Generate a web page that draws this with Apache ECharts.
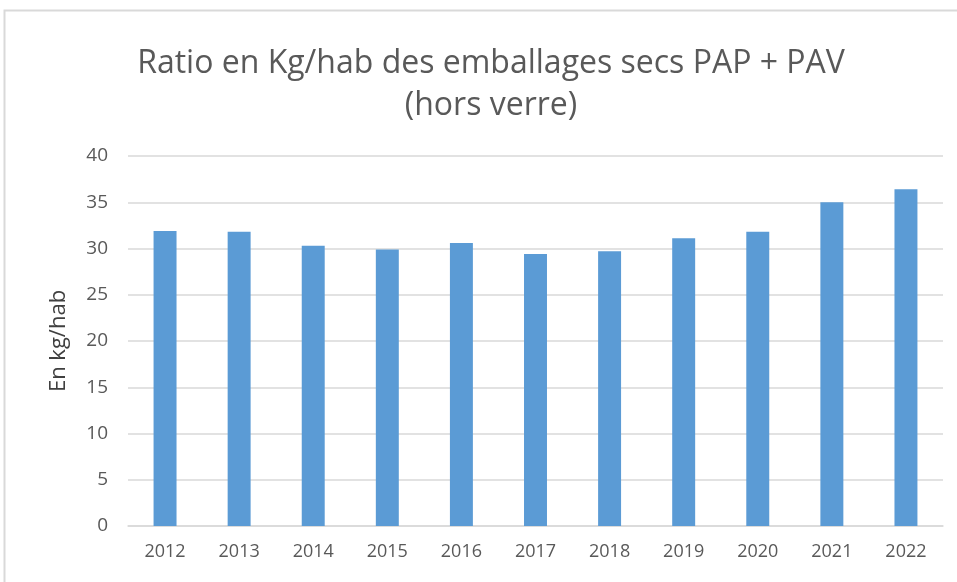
<!DOCTYPE html>
<html><head><meta charset="utf-8">
<script src="https://cdn.jsdelivr.net/npm/echarts@6/dist/echarts.min.js"></script>
<style>html,body{margin:0;padding:0;background:#fff}#c{width:957px;height:582px}</style>
</head><body><div id="c"></div>
<script>
const categories = ['2012','2013','2014','2015','2016','2017','2018','2019','2020','2021','2022'];
const values = [31.9, 31.8, 30.3, 29.9, 30.6, 29.4, 29.7, 31.1, 31.8, 35.0, 36.4];
const titleText = 'Ratio en Kg/hab des emballages secs PAP + PAV\n(hors verre)';
const yAxisName = 'En kg/hab';
const font = '"Open Sans", sans-serif';
const chart = echarts.init(document.getElementById('c'));
chart.setOption({
  animation: false,
  graphic: [{type:'rect', shape:{x:4.5,y:10.5,width:1000,height:620}, style:{fill:'none', stroke:'#d9d9d9', lineWidth:2}, silent:true}],
  title: {text: titleText, left: 486, textAlign: 'center', top: 38,
    textStyle:{fontFamily:font, fontSize:32, fontWeight:'normal', color:'#595959', lineHeight:42}},
  grid: {left:128, right:14, top:156, bottom:56},
  xAxis: {type:'category', data: categories,
    axisLine:{lineStyle:{color:'#d9d9d9', width:1.5}}, axisTick:{show:false},
    axisLabel:{fontFamily:font, fontSize:18, color:'#595959', margin:17}},
  yAxis: {type:'value', min:0, max:40, interval:5,
    name: yAxisName, nameLocation:'middle', nameGap:58,
    nameTextStyle:{fontFamily:font, fontSize:22, color:'#404040'},
    splitLine:{lineStyle:{color:'#d9d9d9', width:1.5}},
    axisLabel:{fontFamily:font, fontSize:19, color:'#595959', margin:20}},
  series: [{type:'bar', data: values, barWidth:'31%', itemStyle:{color:'#5B9BD5'}}]
});
</script></body></html>
